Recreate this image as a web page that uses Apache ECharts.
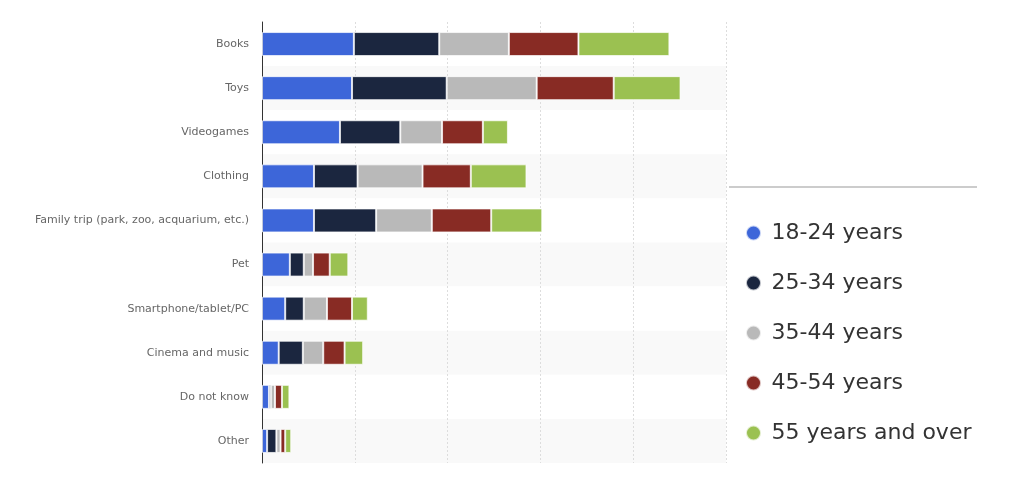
<!DOCTYPE html>
<html>
<head>
<meta charset="utf-8">
<script src="https://cdn.jsdelivr.net/npm/echarts@6/dist/echarts.min.js"></script>
<style>
html,body{margin:0;padding:0;background:#fff;}
#chart{width:1024px;height:477px;}
</style>
</head>
<body>
<div id="chart"></div>
<script>
const categories = ["Books", "Toys", "Videogames", "Clothing", "Family trip (park, zoo, acquarium, etc.)", "Pet", "Smartphone/tablet/PC", "Cinema and music", "Do not know", "Other"];
const seriesNames = ["18-24 years", "25-34 years", "35-44 years", "45-54 years", "55 years and over"];
const age18_24 = [9.9, 9.7, 8.4, 5.6, 5.6, 3.0, 2.5, 1.8, 0.75, 0.55];
const age25_34 = [9.2, 10.2, 6.5, 4.7, 6.7, 1.5, 2.0, 2.6, 0.2, 1.0];
const age35_44 = [7.5, 9.7, 4.5, 7.0, 6.0, 1.0, 2.5, 2.2, 0.45, 0.45];
const age45_54 = [7.5, 8.3, 4.4, 5.2, 6.4, 1.8, 2.7, 2.3, 0.75, 0.5];
const age55plus = [9.8, 7.2, 2.7, 6.0, 5.5, 2.0, 1.7, 2.0, 0.8, 0.65];
const colors = ["#3d66d9", "#1b263f", "#b9b9b9", "#882b24", "#9bc151"];

const seriesData = [age18_24, age25_34, age35_44, age45_54, age55plus];

const chart = echarts.init(document.getElementById('chart'), null, {renderer: 'canvas'});
chart.setOption({
  animation: false,
  backgroundColor: '#ffffff',
  color: colors,
  grid: {left: 262, top: 22, width: 464, height: 441, containLabel: false},
  legend: {
    orient: 'vertical',
    left: 740,
    top: 217,
    icon: 'circle',
    itemWidth: 26,
    itemHeight: 15,
    itemGap: 28,
    data: seriesNames,
    textStyle: {fontFamily: 'DejaVu Sans', fontSize: 22, lineHeight: 22, color: '#333'}
  },
  graphic: [{
    type: 'line',
    shape: {x1: 729, y1: 187, x2: 977, y2: 187},
    style: {stroke: '#cccccc', lineWidth: 2}
  }],
  xAxis: {
    type: 'value',
    min: 0,
    max: 50,
    interval: 10,
    axisLabel: {show: false},
    axisLine: {show: false},
    axisTick: {show: false},
    splitLine: {show: true, lineStyle: {color: '#dddddd', type: [2, 2], width: 1}}
  },
  yAxis: {
    type: 'category',
    data: categories,
    inverse: true,
    axisLine: {show: true, lineStyle: {color: '#333333', width: 1}},
    axisTick: {show: false},
    axisLabel: {margin: 13, fontFamily: 'DejaVu Sans', fontSize: 11, color: '#666666'},
    splitArea: {show: true, areaStyle: {color: ['#ffffff', '#f9f9f9']}}
  },
  series: seriesNames.map((name, i) => ({
    name: name,
    type: 'bar',
    stack: 'total',
    barWidth: 24,
    data: seriesData[i],
    itemStyle: {color: colors[i], borderColor: 'rgba(255,255,255,0.7)', borderWidth: 1}
  }))
});
</script>
</body>
</html>
